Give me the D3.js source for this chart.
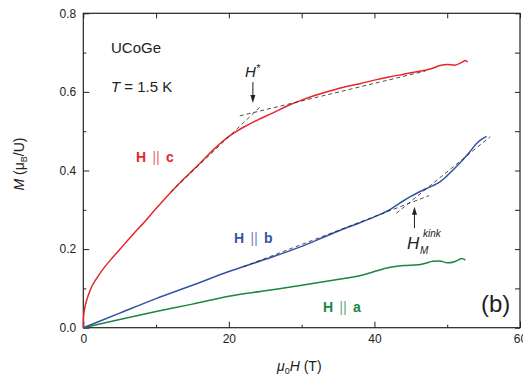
<!DOCTYPE html>
<html><head><meta charset="utf-8">
<script src="https://cdn.jsdelivr.net/npm/d3@7"></script>
<style>body{margin:0;background:#fff}svg{display:block;font-family:"Liberation Sans",Arial,sans-serif}</style>
</head><body><svg id="c" width="523" height="376"></svg>
<script>
// ---- data ----
const xTicks = [0, 20, 40, 60];
const yTicks = [0.0, 0.2, 0.4, 0.6, 0.8];
const xMinor = [10, 30, 50];
const yMinor = [0.1, 0.3, 0.5, 0.7];

const cH = [0,0.05,0.2,0.5,1,2,3,4,5,6,7,8,10,12,14,16,18,19,20,21,22,23,24,26,28,30,32,34,36,38,40,42,44,46,47,48,49,50,51,52,52.5,52.8];
const cM = [0,0.03,0.05,0.072,0.098,0.13,0.156,0.178,0.199,0.220,0.241,0.261,0.303,0.344,0.382,0.418,0.455,0.472,0.487,0.499,0.510,0.520,0.529,0.546,0.564,0.579,0.592,0.603,0.613,0.621,0.630,0.638,0.645,0.652,0.655,0.66,0.667,0.670,0.668,0.675,0.680,0.676];

const bH = [0,5,10,15,20,25,30,33,36,38,40,42,43,44,45,46,47,48,49,50,51,52,53,54,54.7,55.4];
const bM = [0,0.037,0.074,0.108,0.143,0.174,0.207,0.230,0.253,0.267,0.282,0.299,0.311,0.323,0.334,0.344,0.353,0.361,0.371,0.387,0.405,0.424,0.445,0.468,0.479,0.487];

const aH = [0,5,10,15,20,25,30,33,36,38,40,42,44,46,47,48,49,50,51,51.5,52,52.5];
const aM = [0,0.021,0.041,0.060,0.080,0.094,0.108,0.117,0.126,0.132,0.143,0.153,0.158,0.160,0.164,0.169,0.170,0.165,0.168,0.172,0.176,0.172];

// dashed fit lines [[H1,M1],[H2,M2]]
const fitC1 = [[12,0.345],[24.3,0.562]];
const fitC2 = [[21.5,0.539],[47,0.653]];
const fitB1 = [[22,0.155],[47.5,0.336]];
const fitB2 = [[43,0.291],[55.9,0.486]];
// arrows [H, Mstart, Mend]
const arrowStar = [23.3, 0.625, 0.572];
const arrowKink = [45.5, 0.253, 0.308];

// ---- drawing ----
const svg = d3.select("#c");
const x = d3.scaleLinear().domain([0,60]).range([83.3,520]);
const y = d3.scaleLinear().domain([0,0.8]).range([327.7,13.3]);
const fmt = d3.format(".1f");

function ax(gen, tr, vals, size, lab, f){
  const g = svg.append("g").attr("transform", tr)
    .call(gen.tickValues(vals).tickSizeInner(-size).tickSizeOuter(0).tickPadding(lab?7:0).tickFormat(lab? f : ()=>""));
  g.select(".domain").remove();
  g.selectAll("line").attr("stroke","#222").attr("stroke-width",1);
  g.selectAll("text").attr("font-size",12).attr("fill","#222").attr("font-family","Liberation Sans, Arial, sans-serif");
  return g;
}
const B = `translate(0,${y(0)})`, T = `translate(0,${y(0.8)})`, L = `translate(${x(0)},0)`, R = `translate(${x(60)},0)`;
ax(d3.axisBottom(x), B, xTicks, 6, true, d3.format("d"));
ax(d3.axisBottom(x), B, xMinor, 3, false);
ax(d3.axisTop(x), T, xTicks.concat(xMinor), 5, false);
ax(d3.axisLeft(y), L, yTicks, 6, true, fmt);
ax(d3.axisLeft(y), L, yMinor, 3, false);
ax(d3.axisRight(y), R, yTicks.concat(yMinor), 5, false);

svg.append("rect").attr("x",x(0)).attr("y",y(0.8)).attr("width",x(60)-x(0)).attr("height",y(0)-y(0.8))
  .attr("fill","none").attr("stroke","#222").attr("stroke-width",1.2);

const line = d3.line().x(d=>x(d[0])).y(d=>y(d[1])).curve(d3.curveMonotoneX);
function curve(H,M,col){
  svg.append("path").datum(H.map((h,i)=>[h,M[i]])).attr("d",line)
    .attr("fill","none").attr("stroke",col).attr("stroke-width",1.5);
}
const RED="#e8252b", BLUE="#3253a6", GREEN="#1d8540";
curve(aH,aM,GREEN);
curve(bH,bM,BLUE);
curve(cH,cM,RED);

[fitC1,fitC2,fitB1,fitB2].forEach(f=>{
  svg.append("path").datum(f).attr("d",d3.line().x(d=>x(d[0])).y(d=>y(d[1])))
    .attr("fill","none").attr("stroke","#222").attr("stroke-width",0.8).attr("stroke-dasharray","4,3");
});

function arrow(a){
  const X=x(a[0]), y1=y(a[1]), y2=y(a[2]);
  const dir = y2>y1 ? 1 : -1;
  svg.append("line").attr("x1",X).attr("x2",X).attr("y1",y1).attr("y2",y2-dir*6).attr("stroke","#222").attr("stroke-width",1);
  svg.append("path").attr("d",`M${X},${y2} L${X-2.5},${y2-dir*8} L${X+2.5},${y2-dir*8}Z`).attr("fill","#222");
}
arrow(arrowStar);
arrow(arrowKink);

// texts
function txt(xp,yp,s,opt){
  const t=svg.append("text").attr("x",xp).attr("y",yp).attr("font-size",opt.size||14).attr("fill",opt.fill||"#222");
  if(opt.anchor) t.attr("text-anchor",opt.anchor);
  return t;
}
txt(111,53,"",{size:15}).text("UCoGe");
const t2 = txt(111,92,"",{size:15});
t2.append("tspan").attr("font-style","italic").text("T");
t2.append("tspan").text(" = 1.5 K");
const hs = txt(245,77,"",{size:15});
hs.append("tspan").attr("font-style","italic").text("H");
hs.append("tspan").attr("font-style","italic").attr("font-size",11).attr("dy",-5).text("*");
txt(407,249,"",{size:17}).attr("font-style","italic").text("H");
txt(423,237,"",{size:10}).attr("font-style","italic").text("kink");
txt(420,254,"",{size:10}).attr("font-style","italic").text("M");

function lab(xp,yp,letter,col){
  const t=txt(xp,yp,"",{size:14,fill:col});
  t.append("tspan").attr("font-weight","bold").text("H");
  t.append("tspan").attr("font-weight","normal").attr("fill-opacity",0.7).attr("font-size",15).attr("dx",6).text("||");
  t.append("tspan").attr("font-weight","bold").attr("dx",6).text(letter);
}
lab(136,162,"c",RED);
lab(234,243,"b",BLUE);
lab(323,312,"a",GREEN);

txt(481,312,"",{size:24}).text("(b)");

// axis titles
const xt = txt(277,371,"",{size:14});
xt.append("tspan").attr("font-style","italic").text("μ");
xt.append("tspan").attr("font-size",9).attr("dy",3).text("0");
xt.append("tspan").attr("font-style","italic").attr("dy",-3).text("H");
xt.append("tspan").text(" (T)");

const yt = svg.append("text").attr("transform","translate(24,164) rotate(-90)").attr("text-anchor","middle").attr("font-size",14).attr("fill","#222");
yt.append("tspan").attr("font-style","italic").text("M");
yt.append("tspan").text(" (μ");
yt.append("tspan").attr("font-size",9).attr("dy",3).text("B");
yt.append("tspan").attr("dy",-3).text("/U)");
</script></body></html>
